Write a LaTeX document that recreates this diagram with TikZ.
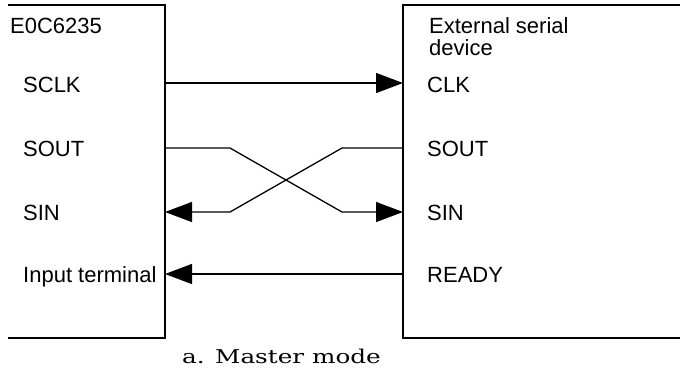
\documentclass[tikz,border=0pt]{standalone}
\usepackage{fontspec}
\usepackage{graphicx}
\setmainfont{Liberation Sans}
\newfontfamily\capfont{DejaVu Serif}
\usetikzlibrary{arrows.meta}
\begin{document}
\begin{tikzpicture}[x=1pt,y=-1pt,
  lbl/.style={anchor=base west,inner sep=0pt,font=\fontsize{22}{24}\selectfont},
  wire/.style={line width=1.3pt},
  sig/.style={wire,-{Triangle[length=27pt,width=20pt]}},
  box/.style={line width=1.5pt}]
\useasboundingbox (0,0) rectangle (680,368);
% boxes
\draw[box] (8,5) -- (165,5) -- (165,338) -- (8,338);
\draw[box] (680,5) -- (403,5) -- (403,338) -- (680,338);
% labels left
\node[lbl] (chip) at (10,33) {E0C6235};
\node[lbl] (lsclk) at (23,92) {SCLK};
\node[lbl] (lsout) at (23,156) {SOUT};
\node[lbl] (lsin) at (23,220) {SIN};
\node[lbl] (linp) at (23,282) {Input terminal};
% labels right
\node[lbl] (ext1) at (429,33) {External serial};
\node[lbl] (ext2) at (429,55) {device};
\node[lbl] (rclk) at (427,92) {CLK};
\node[lbl] (rsout) at (427,156) {SOUT};
\node[lbl] (rsin) at (427,220) {SIN};
\node[lbl] (rrdy) at (427,282) {READY};
% pins
\coordinate (pSCLK) at (165,83);
\coordinate (pSOUT) at (165,148);
\coordinate (pSIN) at (165,212);
\coordinate (pINP) at (165,274);
\coordinate (qCLK) at (403,83);
\coordinate (qSOUT) at (403,148);
\coordinate (qSIN) at (403,212);
\coordinate (qRDY) at (403,274);
\coordinate (a1) at (230,148);
\coordinate (a2) at (342,212);
\coordinate (b1) at (342,148);
\coordinate (b2) at (230,212);
% connectors
\draw[sig] (pSCLK) -- (qCLK);
\draw[sig] (pSOUT) -- (a1) -- (a2) -- (qSIN);
\draw[sig] (qSOUT) -- (b1) -- (b2) -- (pSIN);
\draw[sig] (qRDY) -- (pINP);
% caption
\node[anchor=base west,inner sep=0pt,font=\capfont\fontsize{19}{21}\selectfont] (cap) at (182,363) {\scalebox{1.3}[1]{a. Master mode}};
\end{tikzpicture}
\end{document}
